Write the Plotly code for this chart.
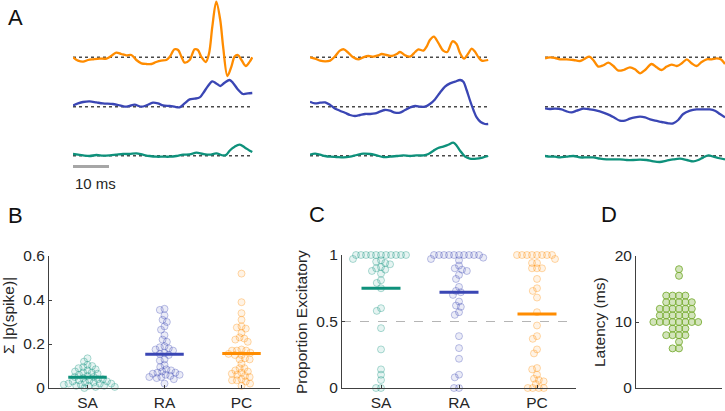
import numpy as np
import plotly.graph_objects as go

W, H = 725, 411
FONT = "Liberation Sans, Arial, Helvetica, sans-serif"
TXT = "#262626"
AX = "#404040"

C_PC = (255, 140, 0)
C_RA = (58, 70, 180)
C_SA = (14, 145, 123)
C_LAT = (119, 172, 48)

# ---------------- Panel A: example traces (time in ms, signal in a.u.) ----------------
# column 1
c1_pc_t = [0, 1.4, 2.8, 4.2, 5.6, 7.4, 9.3, 10.6, 12.0, 13.4, 14.8, 16.2, 17.6, 19.0, 20.4, 21.8, 23.1, 24.5,
           25.9, 26.9, 28.2, 29.2, 30.1, 31.0, 32.4, 33.8, 34.7, 35.6, 36.9, 37.8, 38.7, 39.8, 40.9, 41.7,
           42.9, 44.0, 44.9, 45.8, 46.8, 48.0, 49.1, 49.8]
c1_pc_v = [0, -3.3, -4.3, -2.7, -2, -1.3, -1.3, 1.3, 4.7, 3.3, 2, 2.3, -2.7, -6, -6.7, -6.7, -4.7, -3.3,
           -2.7, 0.7, 8, 7.3, 0.7, -5.3, -2.7, 8, 7.3, 0.7, -4.7, 4, 30.7, 55.7, 37.3, 10.7,
           -18.7, -9.3, 0.7, 2.3, -2.7, -8.7, -4.3, 0]
c1_ra_t = [0, 1.4, 2.8, 4.6, 6.5, 8.3, 11.1, 13.0, 14.4, 15.7, 17.1, 19.0, 20.4, 22.2, 23.6, 25.0, 26.9, 28.2,
           29.6, 31.0, 32.4, 33.8, 35.2, 36.1, 37.5, 38.7, 39.8, 40.9, 42.1, 43.5, 44.4, 45.8, 47.2, 48.6, 49.8]
c1_ra_v = [1.3, 3.3, 4.7, 5.3, 4.3, 3.3, 2.7, 1.3, 0, 0.7, 2, 0, 1.3, 4, 3.3, 1.3, 0.7, 0,
           -0.7, 3.3, 7.3, 8, 9.3, 13.3, 20.7, 25.3, 23.3, 20.7, 24, 26.7, 24, 17.3, 12.7, 13.3, 13.7]
c1_sa_t = [0, 1.4, 2.8, 4.6, 6.5, 8.3, 10.2, 12.0, 13.9, 15.7, 17.6, 19.4, 21.3, 23.1, 25.0, 26.9, 28.7, 30.6,
           32.4, 34.3, 36.1, 38.0, 39.8, 41.7, 42.6, 43.5, 44.9, 46.3, 47.7, 49.1, 49.8]
c1_sa_v = [1.7, 1, 0.3, -0.3, 0.7, 0, 0.3, 1, 1.7, 1.7, 2.3, 1, -0.3, -1, -1, -1, -0.3, 1,
           1.3, 3, 1.7, 1, 2.3, 0.3, 1, 5, 9, 11, 8.3, 5, 3.7]
# column 2
c2_pc_t = [0, 1.4, 2.8, 4.2, 5.6, 6.9, 8.3, 9.4, 10.6, 12.0, 13.4, 14.8, 16.2, 17.6, 19.0, 19.9, 21.3, 22.7,
           24.1, 25.0, 26.4, 27.8, 29.2, 30.1, 31.5, 32.4, 33.3, 34.4, 35.6, 37.0, 38.1, 39.6, 40.7, 41.7,
           42.8, 44.0, 44.9, 45.8, 46.8, 47.7, 49.5]
c2_pc_v = [0, -1.3, -3.3, -4, -3.3, 0.7, 6.7, 8, 4.7, 0, -2, 0, 1.3, 0.7, 2, 3.3, 2.3, 1.3,
           3.3, 5.3, 2, 0.7, 5.3, 8, 6.7, 10.7, 17.3, 20.7, 14.7, 6.7, 5.3, 16, 13.3, 4,
           -1.3, 4, 8.7, 5.7, 0, -3.3, -2.7]
c2_ra_t = [0, 1.4, 2.8, 4.2, 5.6, 6.9, 8.3, 9.7, 11.1, 12.5, 13.9, 15.3, 16.7, 18.1, 19.4, 20.8, 22.2, 23.6,
           25.0, 26.4, 27.8, 29.2, 30.6, 31.9, 33.3, 34.7, 36.1, 37.5, 38.9, 40.3, 41.7, 42.6, 43.5, 44.4,
           45.4, 46.3, 47.4, 48.6, 49.5]
c2_ra_v = [5, 3.3, 4, 4.3, 1.7, -1.7, -4, -6, -8.3, -9.3, -8.3, -7.3, -7.3, -6.7, -5, -3.3, -4, -6,
           -6, -3.3, -0.7, 0.7, 0, 0, 2.7, 7.3, 14, 20, 23.3, 25, 26.7, 25, 16.7, 6.7,
           -3.3, -10.7, -15.3, -17.3, -17.3]
c2_sa_t = [0, 1.4, 2.8, 4.2, 5.6, 7.4, 9.3, 11.1, 13.0, 14.8, 16.7, 18.5, 20.4, 22.2, 24.1, 25.9, 27.8, 29.6,
           31.5, 32.9, 34.3, 35.6, 37.0, 38.4, 39.8, 40.7, 41.7, 43.1, 44.4, 46.3, 48.1, 49.5]
c2_sa_v = [1, 2, 1, -0.3, -1, -1.3, -1.7, -1, 0.7, 2, 1.7, 0.3, -1.3, -1, -0.3, 0.3, -0.3, 0.3,
           0.3, 1.7, 5, 7.7, 9, 11, 13, 10.3, 5, -1, -3, -3, -1.7, -0.3]
# column 3
c3_pc_t = [0, 1.4, 2.8, 4.2, 6.0, 7.9, 9.7, 11.1, 12.3, 13.4, 14.8, 16.2, 17.6, 19.0, 20.4, 21.8, 23.6, 25.0,
           26.4, 27.8, 29.6, 31.0, 32.4, 33.8, 35.2, 36.6, 38.0, 39.4, 40.7, 42.1, 43.5, 44.9, 46.3, 47.7,
           48.8, 50.0]
c3_pc_v = [-1, 0, -0.7, -2, -2, -2.7, -3.7, -1.3, 0.7, -2.7, -9.3, -8, -5.3, -8.7, -13.3, -12.7, -10, -12,
           -16, -12.7, -6.7, -10, -12.7, -9.3, -7.3, -8.7, -6, -2, -6, -8.7, -4.7, -2, -2, -1,
           -2, -6.7]
c3_ra_t = [0, 1.4, 2.8, 4.6, 6.0, 7.4, 8.8, 10.6, 12.5, 14.4, 16.2, 18.1, 19.4, 20.8, 22.2, 23.6, 25.0, 26.4,
           27.8, 29.2, 30.6, 32.4, 34.3, 35.6, 37.0, 38.4, 40.3, 42.1, 44.0, 45.8, 47.2, 48.6, 50.0]
c3_ra_v = [-1.7, -2.3, -2, -2.7, -4.7, -5.7, -4, -2, -2.7, -4, -6, -8.7, -11.3, -14, -14, -12, -10.7, -10,
           -10.7, -12.7, -14, -15.3, -16.7, -16.7, -13.3, -7.3, -4, -2.7, -2.7, -2.7, -4, -7.3, -10.7]
c3_sa_t = [0, 1.4, 2.8, 4.2, 6.0, 7.9, 9.7, 11.6, 13.4, 15.3, 17.1, 19.0, 20.8, 22.7, 24.5, 26.4, 28.2, 30.1,
           31.9, 33.8, 35.6, 37.5, 39.4, 41.2, 42.6, 44.0, 45.4, 46.8, 48.1, 50.0]
c3_sa_v = [-0.3, -1, -1, -1.7, -1, -0.3, -1.7, -1.7, -1.7, -3, -3.7, -3.7, -3.7, -4.3, -4.3, -4, -4.3, -5.7,
           -6.3, -5, -3.7, -3, -4.3, -5.7, -4.3, -1.7, 0.3, -1, -2.3, -3.7]

# ---------------- Panel B: sum |p(spike)| ----------------
categories = ["SA", "RA", "PC"]
b_sa = [0.135, 0.12, 0.105, 0.10, 0.095, 0.09, 0.085, 0.08, 0.075, 0.07, 0.07, 0.065, 0.06, 0.055, 0.05,
        0.05, 0.045, 0.04, 0.04, 0.035, 0.035, 0.03, 0.03, 0.025, 0.025, 0.02, 0.02, 0.02, 0.015, 0.015,
        0.01, 0.01, 0.01, 0.005, 0.005, 0.0]
b_ra = [0.36, 0.355, 0.33, 0.31, 0.30, 0.28, 0.265, 0.24, 0.22, 0.21, 0.19, 0.185, 0.18, 0.175, 0.17,
        0.16, 0.155, 0.15, 0.13, 0.125, 0.105, 0.095, 0.085, 0.08, 0.075, 0.07, 0.07, 0.065, 0.06, 0.06,
        0.055, 0.05, 0.05, 0.045, 0.04, 0.02]
b_pc = [0.52, 0.39, 0.34, 0.31, 0.28, 0.275, 0.27, 0.25, 0.23, 0.225, 0.22, 0.21, 0.175, 0.17, 0.17,
        0.17, 0.16, 0.155, 0.15, 0.15, 0.135, 0.13, 0.13, 0.11, 0.09, 0.09, 0.08, 0.075, 0.07, 0.065,
        0.06, 0.055, 0.05, 0.04, 0.035, 0.035, 0.03, 0.02, 0.01]

# ---------------- Panel C: proportion excitatory ----------------
c_sa = [1.0] * 11 + [0.97, 0.96, 0.95, 0.94, 0.93, 0.91, 0.90, 0.89, 0.88, 0.86, 0.81, 0.79, 0.75,
                     0.60, 0.58, 0.45, 0.29, 0.14, 0.10, 0.06, 0.0, 0.0]
c_ra = [1.0] * 10 + [0.98, 0.97, 0.96, 0.92, 0.90, 0.89, 0.88, 0.85, 0.82, 0.76, 0.73, 0.72, 0.70,
                     0.65, 0.62, 0.61, 0.57, 0.55, 0.39, 0.30, 0.22, 0.10, 0.08, 0.0, 0.0]
c_pc = [1.0] * 8 + [0.97, 0.94, 0.94, 0.90, 0.90, 0.90, 0.82, 0.75, 0.73, 0.68, 0.57, 0.47, 0.39,
                    0.37, 0.29, 0.26, 0.15, 0.14, 0.10, 0.07, 0.06, 0.05, 0.03, 0.0, 0.0, 0.0, 0.0]

# ---------------- Panel D: latency (ms) ----------------
latency = [18, 17] + [14] * 4 + [13] * 5 + [12] * 6 + [11] * 6 + [10] * 8 + [9] * 3 + [8] * 4 + [7] + [6] * 2


def rgba(c, a):
    return f"rgba({c[0]},{c[1]},{c[2]},{a})"


def swarm(vals, ky, kx, d=6.6):
    """Beeswarm offsets (in x data units) computed in pixel space."""
    ys = np.asarray(vals, float) * ky
    order = np.argsort(-ys, kind="stable")
    px, py = [], []
    xs = np.zeros(len(ys))
    for i in order:
        y = ys[i]
        cands = [0.0]
        for xj, yj in zip(px, py):
            dy = y - yj
            if abs(dy) < d:
                s = np.sqrt(d * d - dy * dy)
                cands += [xj - s, xj + s]
        cands.sort(key=lambda c: (abs(c), c))
        for c in cands:
            if all((c - xj) ** 2 + (y - yj) ** 2 >= d * d - 1e-6 for xj, yj in zip(px, py)):
                xs[i] = c
                px.append(c)
                py.append(y)
                break
    return xs / kx


def P(x):
    return x / W


def Q(y):
    return 1 - y / H


fig = go.Figure()

# ---- Panel A axes ----
A_cols = [(73, 253), (310, 490), (545, 725)]
A_top = 57.3
OFFS = {"PC": 0.0, "RA": -49.4, "SA": -98.4}
layout = dict(
    template="none",
    width=W, height=H, margin=dict(l=0, r=0, t=0, b=0, pad=0, autoexpand=False), autosize=False,
    paper_bgcolor="white", plot_bgcolor="rgba(0,0,0,0)", showlegend=False,
    font=dict(family=FONT, color=TXT, size=15.5),
)
for k, (x0, x1) in enumerate(A_cols):
    nm = "xaxis" if k == 0 else f"xaxis{k + 1}"
    layout[nm] = dict(domain=[P(x0), P(x1)], range=[0, 50], visible=False, anchor="y", fixedrange=True,
                      automargin=False)
layout["yaxis"] = dict(domain=[Q(190), 1], range=[A_top - 190, A_top], visible=False, anchor="x",
                       fixedrange=True, automargin=False)

cols = [
    ("x", [(c1_pc_t, c1_pc_v, "PC"), (c1_ra_t, c1_ra_v, "RA"), (c1_sa_t, c1_sa_v, "SA")]),
    ("x2", [(c2_pc_t, c2_pc_v, "PC"), (c2_ra_t, c2_ra_v, "RA"), (c2_sa_t, c2_sa_v, "SA")]),
    ("x3", [(c3_pc_t, c3_pc_v, "PC"), (c3_ra_t, c3_ra_v, "RA"), (c3_sa_t, c3_sa_v, "SA")]),
]
colmap = {"PC": C_PC, "RA": C_RA, "SA": C_SA}
for xa, trs in cols:
    for t, v, cls in trs:
        off = OFFS[cls]
        fig.add_trace(go.Scatter(x=[0, 50], y=[off, off], xaxis=xa, yaxis="y", mode="lines",
                                 line=dict(color="#4a4a4a", width=1.6, dash="dot"), hoverinfo="skip"))
        fig.add_trace(go.Scatter(x=t, y=[off + vv for vv in v], xaxis=xa, yaxis="y", mode="lines",
                                 line=dict(color=rgba(colmap[cls], 1), width=2.3, shape="spline", smoothing=0.9),
                                 hoverinfo="skip"))
# scale bar 10 ms
fig.add_trace(go.Scatter(x=[0, 10], y=[A_top - 166.5] * 2, xaxis="x", yaxis="y", mode="lines",
                         line=dict(color="#a6a6a6", width=3), hoverinfo="skip"))

ax_common = dict(showline=True, linecolor=AX, linewidth=1, ticks="inside", ticklen=3, tickcolor=AX,
                 showgrid=False, zeroline=False, fixedrange=True, automargin=False,
                 tickfont=dict(size=15.5, color=TXT))

# ---- Panel B ----
layout["xaxis4"] = dict(ax_common, domain=[P(49), P(280)], range=[0.5, 3.5], anchor="y4",
                        tickvals=[1, 2, 3], ticktext=categories)
layout["yaxis4"] = dict(ax_common, domain=[Q(388), Q(256)], range=[0, 0.6], anchor="x4",
                        tickvals=[0, 0.2, 0.4, 0.6], ticktext=["0", "0.2", "0.4", "0.6"])
# ---- Panel C ----
layout["xaxis5"] = dict(ax_common, domain=[P(342), P(576)], range=[0.5, 3.5], anchor="y5",
                        tickvals=[1, 2, 3], ticktext=categories)
layout["yaxis5"] = dict(ax_common, domain=[Q(388), Q(255)], range=[0, 1], anchor="x5",
                        tickvals=[0, 0.5, 1], ticktext=["0", "0.5", "1"])
# ---- Panel D ----
layout["xaxis6"] = dict(ax_common, domain=[P(636), P(722)], range=[0.5, 1.5], anchor="y6",
                        tickvals=[], showticklabels=False)
layout["yaxis6"] = dict(ax_common, domain=[Q(388), Q(256)], range=[0, 20], anchor="x6",
                        tickvals=[0, 10, 20])

kxB, kyB = 77.0, 132 / 0.6
kxC, kyC = 78.0, 133.0

# C dashed reference
fig.add_trace(go.Scatter(x=[0.5, 3.5], y=[0.5, 0.5], xaxis="x5", yaxis="y5", mode="lines",
                         line=dict(color="#b5b5b5", width=1.2, dash="dash"), hoverinfo="skip"))

for xa, ya, groups, kx, ky, dd in [
    ("x4", "y4", [b_sa, b_ra, b_pc], kxB, kyB, 4.8),
    ("x5", "y5", [c_sa, c_ra, c_pc], kxC, kyC, 5.0),
]:
    for gi, (vals, col) in enumerate(zip(groups, [C_SA, C_RA, C_PC])):
        cx = gi + 1
        dx = swarm(vals, ky, kx, d=dd)
        fig.add_trace(go.Scatter(x=cx + dx, y=vals, xaxis=xa, yaxis=ya, mode="markers", cliponaxis=False,
                                 marker=dict(size=7, color=rgba(col, 0.10),
                                             line=dict(color=rgba(col, 0.33), width=1)),
                                 hoverinfo="skip"))
    for gi, (vals, col) in enumerate(zip(groups, [C_SA, C_RA, C_PC])):
        cx = gi + 1
        m = float(np.mean(vals))
        fig.add_trace(go.Scatter(x=[cx - 0.25, cx + 0.25], y=[m, m], xaxis=xa, yaxis=ya, mode="lines",
                                 line=dict(color=rgba(col, 1), width=3), hoverinfo="skip"))

dxD = swarm(latency, 132 / 20, 86.0, d=6.4)
fig.add_trace(go.Scatter(x=1 + dxD, y=latency, xaxis="x6", yaxis="y6", mode="markers", cliponaxis=False,
                         marker=dict(size=7, color=rgba(C_LAT, 0.32), line=dict(color=rgba(C_LAT, 0.85), width=1)),
                         hoverinfo="skip"))

ann = []
for txt, x, y in [("A", 15, 18), ("B", 16, 215), ("C", 317, 214), ("D", 609, 214)]:
    ann.append(dict(text=txt, x=P(x), y=Q(y), xref="paper", yref="paper", showarrow=False,
                    xanchor="center", yanchor="middle", font=dict(size=22, color="#111111")))
for txt, x, y in [("Σ |p(spike)|", 8, 316), ("Proportion Excitatory", 301, 322), ("Latency (ms)", 599, 322)]:
    ann.append(dict(text=txt, x=P(x), y=Q(y), xref="paper", yref="paper", showarrow=False, textangle=-90,
                    xanchor="center", yanchor="middle", font=dict(size=15.5, color=TXT)))
ann.append(dict(text="10 ms", x=P(73), y=Q(183), xref="paper", yref="paper", showarrow=False,
                xanchor="left", yanchor="middle", font=dict(size=15, color=TXT)))
layout["annotations"] = ann

fig.update_layout(**layout)
fig.write_html("out.html", config={"displayModeBar": False, "staticPlot": True},
               post_script="document.body.style.margin='0';document.body.style.overflow='hidden';"
                           "document.documentElement.style.overflow='hidden';")
